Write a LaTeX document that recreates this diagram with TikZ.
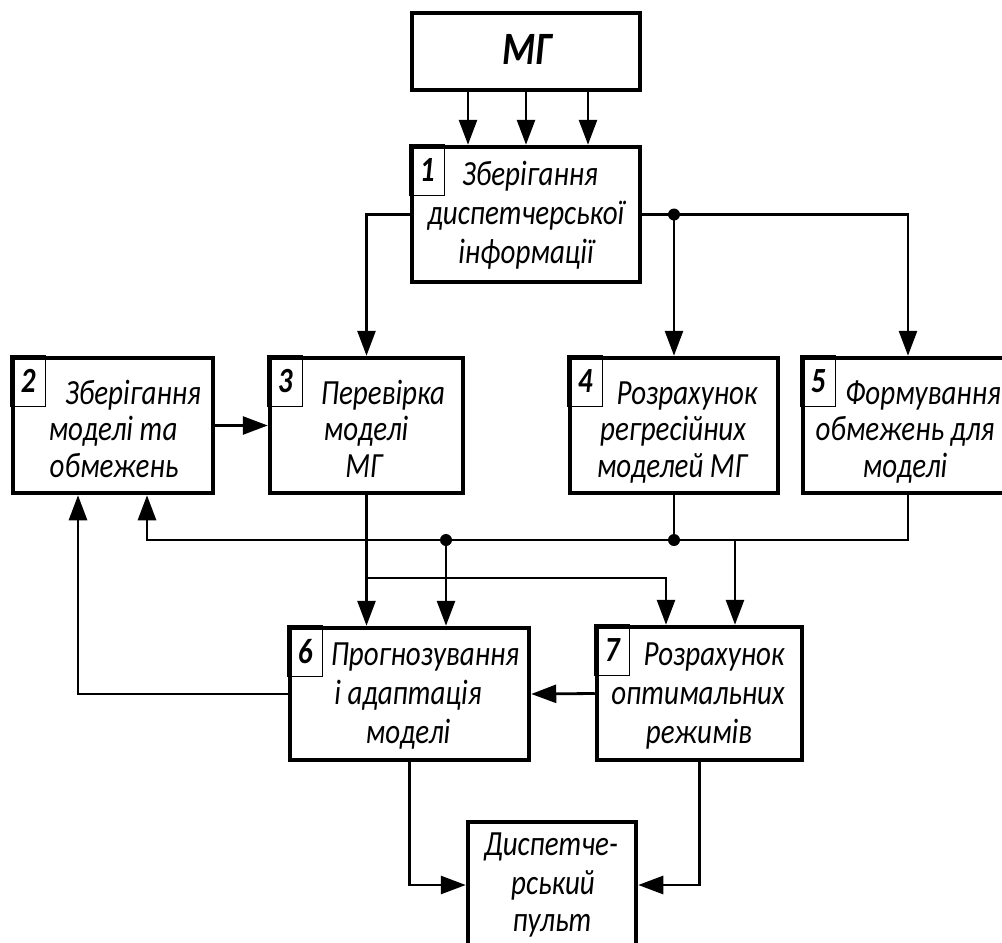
\documentclass[tikz,border=0pt]{standalone}
\usepackage{graphicx}
\usepackage{fontspec}
\setmainfont{Carlito}
\usetikzlibrary{arrows.meta}
% labels are set a little taller than the font's natural proportions
\newcommand\tallt[1]{\scalebox{1}[1.22]{#1}}
\tikzset{
  blk/.style={draw, line width=4.5pt, inner sep=0pt, outer sep=2.25pt},
  numbox/.style={draw, line width=1.3pt, inner sep=0pt, outer sep=0pt,
    minimum width=35pt, minimum height=51pt, anchor=north west,
    font=\fontsize{29}{32}\selectfont\bfseries\itshape},
  lbl/.style={anchor=base, inner sep=0pt, font=\fontsize{29}{35}\selectfont\itshape},
  wire/.style={line width=2.8pt},
  arr/.style={wire, -{Triangle[length=25pt,width=18pt]}},
  dot/.style={circle, fill, inner sep=0pt, minimum size=12pt},
}
\begin{document}
\begin{tikzpicture}[x=1pt, y=-1pt]
\useasboundingbox (0,0) rectangle (1002,943);
\clip (0,0) rectangle (1002,943);

% blocks
\node[blk, minimum width=228pt, minimum height=77pt]  (mg)   at (526,51.5)  {};
\node[blk, minimum width=228pt, minimum height=135pt] (b1)   at (526,214.5) {};
\node[blk, minimum width=200pt, minimum height=135pt] (b2)   at (113,425.5) {};
\node[blk, minimum width=193pt, minimum height=135pt] (b3)   at (366.5,425.5) {};
\node[blk, minimum width=208pt, minimum height=135pt] (b4)   at (674,425.5) {};
\node[blk, minimum width=210pt, minimum height=135pt] (b5)   at (908,425.5) {};
\node[blk, minimum width=239pt, minimum height=132pt] (b6)   at (409.5,694) {};
\node[blk, minimum width=205pt, minimum height=133pt] (b7)   at (699.5,693.5) {};
\node[blk, minimum width=168pt, minimum height=126pt] (pult) at (552,885) {};

% number tabs
\node[numbox] (n1) at (b1.north west) {\tallt{1}};
\node[numbox] (n2) at (b2.north west) {\tallt{2}};
\node[numbox] (n3) at (b3.north west) {\tallt{3}};
\node[numbox] (n4) at (b4.north west) {\tallt{4}};
\node[numbox] (n5) at (b5.north west) {\tallt{5}};
\node[numbox] (n6) at (b6.north west) {\tallt{6}};
\node[numbox] (n7) at (b7.north west) {\tallt{7}};

% labels
\node[anchor=base, inner sep=0pt, font=\fontsize{38}{42}\selectfont\bfseries\itshape] (tmg) at (527,64) {\tallt{МГ}};

\node[lbl] (t1a) at (530,185) {\tallt{Зберігання}};
\node[lbl] (t1b) at (526,224) {\tallt{диспетчерської}};
\node[lbl] (t1c) at (526,263) {\tallt{інформації}};

\node[lbl] (t2a) at (133,404) {\tallt{Зберігання}};
\node[lbl] (t2b) at (113,440) {\tallt{моделі та}};
\node[lbl] (t2c) at (114,477) {\tallt{обмежень}};

\node[lbl] (t3a) at (383,404) {\tallt{Перевірка}};
\node[lbl] (t3b) at (366,440) {\tallt{моделі}};
\node[lbl] (t3c) at (364,477) {\tallt{МГ}};

\node[lbl] (t4a) at (687,404) {\tallt{Розрахунок}};
\node[lbl] (t4b) at (673,440) {\tallt{регресійних}};
\node[lbl] (t4c) at (672,477) {\tallt{моделей МГ}};

\node[lbl] (t5a) at (923,404) {\tallt{Формування}};
\node[lbl] (t5b) at (905,440) {\tallt{обмежень для}};
\node[lbl] (t5c) at (905,477) {\tallt{моделі}};

\node[lbl] (t6a) at (425,665) {\tallt{Прогнозування}};
\node[lbl] (t6b) at (408,704) {\tallt{і адаптація}};
\node[lbl] (t6c) at (408,743) {\tallt{моделі}};

\node[lbl] (t7a) at (714,665) {\tallt{Розрахунок}};
\node[lbl] (t7b) at (698,704) {\tallt{оптимальних}};
\node[lbl] (t7c) at (699,743) {\tallt{режимів}};

\node[lbl] (tpa) at (551,855) {\tallt{Диспетче-}};
\node[lbl] (tpb) at (553,894) {\tallt{рський}};
\node[lbl] (tpc) at (552,931) {\tallt{пульт}};

% MG -> 1
\draw[arr] (468,0 |- mg.south) -- (468,0 |- b1.north);
\draw[arr] (526,0 |- mg.south) -- (526,0 |- b1.north);
\draw[arr] (588,0 |- mg.south) -- (588,0 |- b1.north);

% 1 -> 3, 4, 5
\draw[arr] (b1.west) -| (b3.north);
\draw[arr] (b1.east) -| (b5.north);
\node[dot] (d1) at (b4.north |- b1.east) {};
\draw[arr] (d1.center) -- (b4.north);

% 2 -> 3
\draw[arr] (b2.east) -- (b3.west);

% common bus from 4 and 5
\coordinate (busL) at (147,540);
\draw[arr] (b5.south) |- (busL) -- (busL |- b2.south);
\node[dot] (d4) at (b4.south |- busL) {};
\draw[wire] (b4.south) -- (d4.center);
\node[dot] (d6) at (446,540) {};
\draw[arr] (d6.center) -- (446,0 |- b6.north);
\coordinate (j7) at (735,540);
\draw[arr] (j7) -- (j7 |- b7.north);

% 3 -> 6, 7
\draw[arr] (b3.south) -- (b3.south |- b6.north);
\coordinate (j3) at (b3.south |- 0,578);
\draw[arr] (j3) -| (666,0 |- b7.north);

% feedback 6 -> 2
\coordinate (fb) at (78,0 |- b6.west);
\draw[arr] (b6.west) -- (fb) -- (fb |- b2.south);

% 7 -> 6
\draw[arr] (b7.west) -- (b6.east);

% 6, 7 -> console
\draw[arr] (b6.south) |- (pult.west);
\draw[arr] (b7.south) |- (pult.east);
\end{tikzpicture}
\end{document}
